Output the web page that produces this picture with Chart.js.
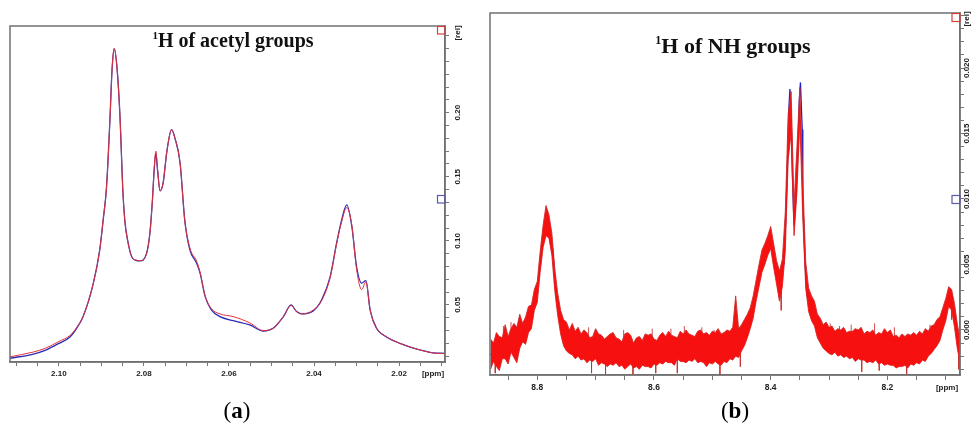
<!DOCTYPE html>
<html>
<head>
<meta charset="utf-8">
<script src="https://cdn.jsdelivr.net/npm/chart.js@4.4.1/dist/chart.umd.min.js"></script>
<style>
  body { margin: 0; background: #fff; }
  #wrap { position: relative; width: 974px; height: 424px; overflow: hidden; background: #fff; }
  canvas { position: absolute; top: 0; }
  .title { position: absolute; text-align: center; font-family: "Liberation Serif", "Times New Roman", serif; font-weight: bold; line-height: 1; color: #111; white-space: nowrap; }
  .title span { font-size: 0.55em; position: relative; top: -0.72em; }
  .cap { position: absolute; width: 60px; text-align: center; font-family: "Liberation Serif", "Times New Roman", serif; font-size: 23px; line-height: 1; color: #000; }
</style>
</head>
<body>
<div id="wrap">
  <canvas id="chartA" width="480" height="424" style="left:0"></canvas>
  <canvas id="chartB" width="487" height="424" style="left:487px"></canvas>
  <div class="title" style="left:133px; top:30px; width:200px; font-size:20px;"><span>1</span>H of acetyl groups</div>
  <div class="title" style="left:623px; top:35px; width:220px; font-size:22px;"><span>1</span>H of NH groups</div>
  <div class="cap" style="left:207px; top:399px;">(<b>a</b>)</div>
  <div class="cap" style="left:705px; top:399px;">(<b>b</b>)</div>
</div>
<script>
// ---- (a) acetyl region, 1H [ppm] vs intensity [rel]
var aPpm = [2.1115, 2.1060, 2.1031, 2.1000, 2.0974, 2.0958, 2.0943, 2.0919, 2.0904, 2.0896,
            2.0888, 2.0880, 2.0875, 2.0870, 2.0863, 2.0856, 2.0850, 2.0845, 2.0838, 2.0829,
            2.0819, 2.0809, 2.0794, 2.0786, 2.0780, 2.0776, 2.0772, 2.0768, 2.0762, 2.0755,
            2.0746, 2.0735, 2.0727, 2.0715, 2.0704, 2.0692, 2.0676, 2.0668, 2.0656, 2.0641,
            2.0621, 2.0590, 2.0551, 2.0519, 2.0496, 2.0472, 2.0454, 2.0441, 2.0429, 2.0402,
            2.0382, 2.0362, 2.0347, 2.0335, 2.0323, 2.0311, 2.0300, 2.0288, 2.0278, 2.0268,
            2.0253, 2.0237, 2.0198, 2.0158, 2.0119, 2.0092];
var aBlue = [0.0084, 0.0117, 0.0148, 0.0200, 0.0250, 0.0320, 0.0410, 0.0670, 0.0930, 0.1160,
             0.1420, 0.1945, 0.2336, 0.2498, 0.2336, 0.1945, 0.1420, 0.1160, 0.1000, 0.0877,
             0.0848, 0.0844, 0.0900, 0.1060, 0.1320, 0.1550, 0.1685, 0.1550, 0.1390, 0.1450,
             0.1700, 0.1867, 0.1800, 0.1607, 0.1160, 0.0930, 0.0826, 0.0748, 0.0565, 0.0460,
             0.0409, 0.0377, 0.0344, 0.0297, 0.0318, 0.0409, 0.0500, 0.0448, 0.0430, 0.0453,
             0.0540, 0.0721, 0.0982, 0.1164, 0.1280, 0.1110, 0.0800, 0.0670, 0.0690, 0.0460,
             0.0318, 0.0266, 0.0200, 0.0156, 0.0127, 0.0122];
var aRed = [0.0095, 0.0133, 0.0163, 0.0215, 0.0262, 0.0325, 0.0410, 0.0670, 0.0930, 0.1160,
            0.1420, 0.1945, 0.2336, 0.2500, 0.2336, 0.1945, 0.1420, 0.1160, 0.0995, 0.0880,
            0.0850, 0.0846, 0.0900, 0.1060, 0.1320, 0.1560, 0.1700, 0.1560, 0.1390, 0.1450,
            0.1700, 0.1867, 0.1800, 0.1607, 0.1160, 0.0945, 0.0840, 0.0755, 0.0570, 0.0470,
            0.0430, 0.0409, 0.0360, 0.0300, 0.0320, 0.0409, 0.0495, 0.0448, 0.0430, 0.0460,
            0.0535, 0.0715, 0.0975, 0.1150, 0.1260, 0.1120, 0.0780, 0.0620, 0.0680, 0.0460,
            0.0318, 0.0268, 0.0200, 0.0156, 0.0125, 0.0120];
var aXLabels = [2.10, 2.08, 2.06, 2.04, 2.02];
var aYLabels = [0.05, 0.10, 0.15, 0.20];

// ---- (b) NH region: blue trace and the upper / lower edge of the noisy red trace
var bPpm = [8.881, 8.864, 8.847, 8.830, 8.821, 8.8125, 8.804, 8.799, 8.794, 8.790,
            8.787, 8.783, 8.780, 8.7765, 8.773, 8.770, 8.766, 8.761, 8.754, 8.744,
            8.727, 8.692, 8.658, 8.616, 8.590, 8.556, 8.521, 8.487, 8.461, 8.449,
            8.439, 8.432, 8.427, 8.422, 8.417, 8.412, 8.406, 8.401, 8.398, 8.394,
            8.389, 8.384, 8.381, 8.377, 8.374, 8.371, 8.369, 8.367, 8.365, 8.363,
            8.360, 8.357, 8.353, 8.351, 8.349, 8.346, 8.345, 8.341, 8.338, 8.333,
            8.326, 8.319, 8.311, 8.299, 8.282, 8.247, 8.208, 8.167, 8.145, 8.132,
            8.120, 8.111, 8.104, 8.099, 8.094, 8.091, 8.085, 8.080, 8.076];
var bBlue = [-19e-4, -14.5e-4, -10.7e-4, -5.3e-4, 0, 9.2e-4, 22.9e-4, 34.3e-4, 57.2e-4, 72.5e-4,
             80e-4, 82.4e-4, 80e-4, 70e-4, 59.5e-4, 38e-4, 23e-4, 7.6e-4, -2.3e-4, -7.6e-4,
             -11.4e-4, -15.3e-4, -17.5e-4, -19e-4, -16e-4, -13e-4, -11.5e-4, -13.7e-4, -11e-4, -5.3e-4,
             3.8e-4, 13.7e-4, 25e-4, 38e-4, 49e-4, 57e-4, 64e-4, 70e-4, 65e-4, 55e-4,
             42e-4, 36e-4, 42e-4, 52e-4, 88e-4, 130e-4, 168e-4, 184e-4, 168e-4, 122e-4,
             80e-4, 99e-4, 145e-4, 175e-4, 189e-4, 153e-4, 99e-4, 50e-4, 27e-4, 19e-4,
             14e-4, 1.5e-4, -3.8e-4, -6.9e-4, -9.2e-4, -11.4e-4, -13e-4, -15.3e-4, -13.7e-4, -10.7e-4,
             -6.1e-4, 0, 9.2e-4, 16.8e-4, 28.2e-4, 26e-4, 11.4e-4, -6e-4, -15.3e-4];

var nPpm = [8.880, 8.875, 8.870, 8.865, 8.860, 8.855, 8.850, 8.845, 8.840, 8.835,
            8.830, 8.825, 8.820, 8.815, 8.810, 8.805, 8.800, 8.795, 8.790, 8.785,
            8.780, 8.775, 8.770, 8.765, 8.760, 8.755, 8.750, 8.745, 8.740, 8.735,
            8.730, 8.725, 8.720, 8.715, 8.710, 8.705, 8.700, 8.695, 8.690, 8.685,
            8.680, 8.675, 8.670, 8.665, 8.660, 8.655, 8.650, 8.645, 8.640, 8.635,
            8.630, 8.625, 8.620, 8.615, 8.610, 8.605, 8.600, 8.595, 8.590, 8.585,
            8.580, 8.575, 8.570, 8.565, 8.560, 8.555, 8.550, 8.545, 8.540, 8.535,
            8.530, 8.525, 8.520, 8.515, 8.510, 8.505, 8.500, 8.495, 8.490, 8.485,
            8.480, 8.475, 8.470, 8.465, 8.460, 8.455, 8.450, 8.445, 8.440, 8.435,
            8.430, 8.425, 8.420, 8.415, 8.410, 8.405, 8.400, 8.395, 8.390, 8.385,
            8.380, 8.375, 8.370, 8.365, 8.360, 8.355, 8.350, 8.345, 8.340, 8.335,
            8.330, 8.325, 8.320, 8.315, 8.310, 8.305, 8.300, 8.295, 8.290, 8.285,
            8.280, 8.275, 8.270, 8.265, 8.260, 8.255, 8.250, 8.245, 8.240, 8.235,
            8.230, 8.225, 8.220, 8.215, 8.210, 8.205, 8.200, 8.195, 8.190, 8.185,
            8.180, 8.175, 8.170, 8.165, 8.160, 8.155, 8.150, 8.145, 8.140, 8.135,
            8.130, 8.125, 8.120, 8.115, 8.110, 8.105, 8.100, 8.095, 8.090, 8.085,
            8.080, 8.075];
var nHi = [-7e-4, -10e-4, -2e-4, -5e-4, -6e-4, 4e-4, -5e-4, 1e-4, 5e-4, 2e-4,
           12e-4, 5e-4, 10e-4, 18e-4, 19e-4, 31e-4, 37e-4, 60e-4, 80e-4, 95e-4,
           88e-4, 74e-4, 47e-4, 28e-4, 15e-4, 8e-4, 6e-4, 0, 5e-4, -1e-4,
           2e-4, -3e-4, 0, -2e-4, -6e-4, -5e-4, 1e-4, -3e-4, -4e-4, -7e-4,
           -5e-4, -3e-4, -2e-4, -6e-4, -7e-4, -9e-4, -3e-4, -2e-4, -4e-4, -10e-4,
           -6e-4, -5e-4, -8e-4, -3e-4, -4e-4, -3e-4, -7e-4, -8e-4, -4e-4, -2e-4,
           -5e-4, -1e-4, -4e-4, -5e-4, -6e-4, -1e-4, -3e-4, 0, -3e-4, -4e-4,
           -5e-4, -1e-4, 0, -3e-4, -2e-4, -4e-4, -1e-4, -2e-4, 1e-4, -3e-4,
           -2e-4, 0, -1e-4, 2e-4, 26e-4, 1e-4, 4e-4, 8e-4, 12e-4, 17e-4,
           26e-4, 38e-4, 50e-4, 61e-4, 66e-4, 72e-4, 79e-4, 66e-4, 53e-4, 45e-4,
           54e-4, 90e-4, 165e-4, 182e-4, 95e-4, 140e-4, 185e-4, 115e-4, 52e-4, 32e-4,
           26e-4, 22e-4, 12e-4, 9e-4, 4e-4, 6e-4, 2e-4, 3e-4, -1e-4, 1e-4,
           0, 2e-4, -2e-4, -1e-4, -1e-4, 1e-4, 0, 2e-4, -3e-4, -1e-4,
           -2e-4, 0, -4e-4, -2e-4, -3e-4, 1e-4, -2e-4, 0, -5e-4, -4e-4,
           -6e-4, -3e-4, -5e-4, -3e-4, -4e-4, -2e-4, -4e-4, -1e-4, -3e-4, 1e-4,
           -1e-4, 3e-4, 4e-4, 8e-4, 10e-4, 17e-4, 24e-4, 33e-4, 31e-4, 20e-4,
           4e-4, -8e-4];
var nLo = [-30e-4, -24e-4, -28e-4, -31e-4, -22e-4, -22e-4, -26e-4, -17e-4, -21e-4, -25e-4,
           -14e-4, -9e-4, -11e-4, -2e-4, 1e-4, 15e-4, 21e-4, 44e-4, 63e-4, 72e-4,
           70e-4, 57e-4, 30e-4, 11e-4, -3e-4, -12e-4, -16e-4, -18e-4, -19e-4, -22e-4,
           -20e-4, -23e-4, -22e-4, -25e-4, -23e-4, -24e-4, -22e-4, -27e-4, -25e-4, -26e-4,
           -28e-4, -26e-4, -27e-4, -25e-4, -28e-4, -27e-4, -30e-4, -28e-4, -26e-4, -29e-4,
           -28e-4, -30e-4, -27e-4, -28e-4, -28e-4, -29e-4, -26e-4, -27e-4, -25e-4, -26e-4,
           -24e-4, -25e-4, -25e-4, -27e-4, -22e-4, -24e-4, -24e-4, -25e-4, -23e-4, -24e-4,
           -22e-4, -25e-4, -24e-4, -25e-4, -28e-4, -25e-4, -26e-4, -24e-4, -26e-4, -27e-4,
           -24e-4, -25e-4, -22e-4, -23e-4, -20e-4, -21e-4, -16e-4, -12e-4, -6e-4, 1e-4,
           9e-4, 22e-4, 33e-4, 44e-4, 50e-4, 57e-4, 62e-4, 48e-4, 35e-4, 22e-4,
           33e-4, 60e-4, 130e-4, 150e-4, 72e-4, 105e-4, 160e-4, 85e-4, 32e-4, 14e-4,
           7e-4, 3e-4, -6e-4, -10e-4, -14e-4, -16e-4, -18e-4, -19e-4, -17e-4, -20e-4,
           -19e-4, -21e-4, -20e-4, -22e-4, -21e-4, -24e-4, -22e-4, -23e-4, -23e-4, -25e-4,
           -24e-4, -25e-4, -23e-4, -26e-4, -25e-4, -27e-4, -26e-4, -27e-4, -27e-4, -29e-4,
           -28e-4, -28e-4, -27e-4, -29e-4, -26e-4, -27e-4, -25e-4, -26e-4, -23e-4, -24e-4,
           -20e-4, -18e-4, -15e-4, -12e-4, -8e-4, 0, 7e-4, 18e-4, 15e-4, 2e-4,
           -15e-4, -25e-4];
// isolated noise spikes: position, foot, tip
var spPpm  = [8.872, 8.858, 8.845, 8.757, 8.712, 8.707, 8.683, 8.652, 8.636, 8.603,
              8.597, 8.571, 8.560, 8.548, 8.518, 8.497, 8.487, 8.452, 8.382, 8.298,
              8.282, 8.262, 8.244, 8.222, 8.214, 8.188, 8.167, 8.127, 8.090, 8.078];
var spFoot = [-22e-4, -8e-4, -5e-4, -6e-4, -12e-4, -20e-4, -22e-4, -12e-4, -22e-4, -12e-4,
              -22e-4, -10e-4, -20e-4, -10e-4, -9e-4, -9e-4, -20e-4, -18e-4, 30e-4, -8e-4,
              -9e-4, -10e-4, -20e-4, -10e-4, -20e-4, -11e-4, -22e-4, -10e-4, 20e-4, -18e-4];
var spTip  = [-33e-4, 3e-4, 6e-4, 5e-4, 2e-4, -33e-4, -34e-4, 0, -35e-4, 1e-4,
              -33e-4, 1e-4, -33e-4, 3e-4, 2e-4, 0, -35e-4, -28e-4, 15e-4, 5e-4,
              3e-4, 4e-4, -32e-4, 5e-4, -31e-4, 2e-4, -35e-4, 4e-4, 8e-4, -30e-4];
var bXLabels = [8.8, 8.6, 8.4, 8.2];
var bYLabels = [0, 0.005, 0.010, 0.015, 0.020];

var TICK_FONT = { family: '"Liberation Sans", Arial, sans-serif', size: 8, weight: 'bold' };

function pts(xs, ys) {
    return xs.map(function (x, i) { return { x: x, y: ys[i] }; });
}

// every spike is a short vertical segment, segments separated by gaps
function spikes(xs, foot, tip) {
    var out = [];
    xs.forEach(function (x, i) {
        out.push({ x: x, y: foot[i] }, { x: x, y: tip[i] }, { x: x, y: null });
    });
    return out;
}

function hasLabel(list, v) {
    return list.some(function (l) { return Math.abs(l - v) < 1e-7; });
}

// frame, marker boxes, rotated y labels, unit labels
function decor(o) {
    return {
        id: 'decor',
        afterDraw: function (chart) {
            var ctx = chart.ctx, a = chart.chartArea, ys = chart.scales.y;
            ctx.save();
            ctx.strokeStyle = '#707070';
            ctx.lineWidth = 1.5;
            ctx.strokeRect(a.left, a.top, a.right - a.left, a.bottom - a.top);

            ctx.lineWidth = 1.2;
            ctx.strokeStyle = '#d8403c';
            ctx.strokeRect(a.right - o.box, a.top + 0.5, o.box, o.box);
            ctx.strokeStyle = '#5a5ab4';
            ctx.strokeRect(a.right - o.box, o.blueTop, o.box, o.box);

            ctx.fillStyle = '#222';
            ctx.font = 'bold ' + o.fs + 'px "Liberation Sans", Arial, sans-serif';
            ctx.textAlign = 'center';
            ctx.textBaseline = 'middle';
            o.yLabels.forEach(function (v) {
                ctx.save();
                ctx.translate(o.labelX, ys.getPixelForValue(v));
                ctx.rotate(-Math.PI / 2);
                ctx.fillText(v.toFixed(o.yDec), 0, 0);
                ctx.restore();
            });
            ctx.save();
            ctx.translate(o.labelX, o.relY);
            ctx.rotate(-Math.PI / 2);
            ctx.fillText('[rel]', 0, 0);
            ctx.restore();

            ctx.fillText('[ppm]', o.ppmX, o.ppmY);
            ctx.restore();
        }
    };
}

function axes(cfg) {
    return {
        x: {
            type: 'linear', reverse: true, min: cfg.xMin, max: cfg.xMax,
            afterFit: function (s) { s.height = cfg.xH; },
            border: { display: true, color: '#707070', width: 1.5 },
            grid: { drawOnChartArea: false, drawTicks: true, tickLength: cfg.tick, tickColor: '#777', color: '#777' },
            ticks: {
                stepSize: cfg.xStep, includeBounds: false, autoSkip: false, maxRotation: 0,
                padding: 3, color: '#222', font: Object.assign({}, TICK_FONT, { size: cfg.fs }),
                callback: function (v) { return hasLabel(cfg.xLabels, v) ? v.toFixed(cfg.xDec) : ''; }
            }
        },
        y: {
            type: 'linear', position: 'right', min: cfg.yMin, max: cfg.yMax,
            afterFit: function (s) { s.width = cfg.yW; },
            border: { display: true, color: '#707070', width: 1.5 },
            grid: { drawOnChartArea: false, drawTicks: true, tickLength: 4, tickColor: '#777', color: '#777' },
            ticks: { stepSize: cfg.yStep, includeBounds: false, autoSkip: false, callback: function () { return ''; } }
        }
    };
}

var common = {
    responsive: false, animation: false, devicePixelRatio: 1,
    plugins: { legend: { display: false }, tooltip: { enabled: false } },
    elements: { point: { radius: 0 } }
};

new Chart(document.getElementById('chartA').getContext('2d'), {
    type: 'line',
    data: {
        datasets: [{
            label: 'red', data: pts(aPpm, aRed), order: 0,
            borderColor: '#e0333a', borderWidth: 1, cubicInterpolationMode: 'monotone', fill: false
        }, {
            label: 'blue', data: pts(aPpm, aBlue), order: 1,
            borderColor: '#2a2ab8', borderWidth: 1.3, cubicInterpolationMode: 'monotone', fill: false
        }]
    },
    options: Object.assign({}, common, {
        layout: { padding: { left: 10, top: 26, right: 0, bottom: 0 } },
        scales: axes({ xMin: 2.0092, xMax: 2.1115, xStep: 0.005, xLabels: aXLabels, xDec: 2, xH: 62, tick: 4, fs: 8,
                       yMin: 0.0055, yMax: 0.2676, yStep: 0.01, yW: 35 })
    }),
    plugins: [decor({ box: 7.5, blueTop: 195.5, labelX: 458, relY: 33, ppmX: 433, ppmY: 374, fs: 8,
                      yLabels: aYLabels, yDec: 2 })]
});

new Chart(document.getElementById('chartB').getContext('2d'), {
    type: 'line',
    data: {
        datasets: [{
            label: 'red upper', data: pts(nPpm, nHi), order: 0,
            borderColor: '#cf2c2c', borderWidth: 0.9, backgroundColor: '#f61010', fill: '+1', tension: 0
        }, {
            label: 'red lower', data: pts(nPpm, nLo), order: 0,
            borderColor: '#cf2c2c', borderWidth: 0.9, fill: false, tension: 0
        }, {
            label: 'red spikes', data: spikes(spPpm, spFoot, spTip), order: 0,
            borderColor: 'rgba(196,48,48,0.85)', borderWidth: 1, fill: false, spanGaps: false
        }, {
            label: 'blue', data: pts(bPpm, bBlue), order: 1,
            borderColor: '#2020c8', borderWidth: 1.3, fill: false, tension: 0
        }]
    },
    options: Object.assign({}, common, {
        layout: { padding: { left: 3, top: 13, right: 0, bottom: 0 } },
        scales: axes({ xMin: 8.0756, xMax: 8.881, xStep: 0.05, xLabels: bXLabels, xDec: 1, xH: 49, tick: 5, fs: 8.5,
                       yMin: -0.00344, yMax: 0.0242, yStep: 0.001, yW: 14 })
    }),
    plugins: [decor({ box: 8, blueTop: 195.5, labelX: 480, relY: 19, ppmX: 460, ppmY: 388, fs: 8,
                      yLabels: bYLabels, yDec: 3 })]
});
</script>
</body>
</html>
